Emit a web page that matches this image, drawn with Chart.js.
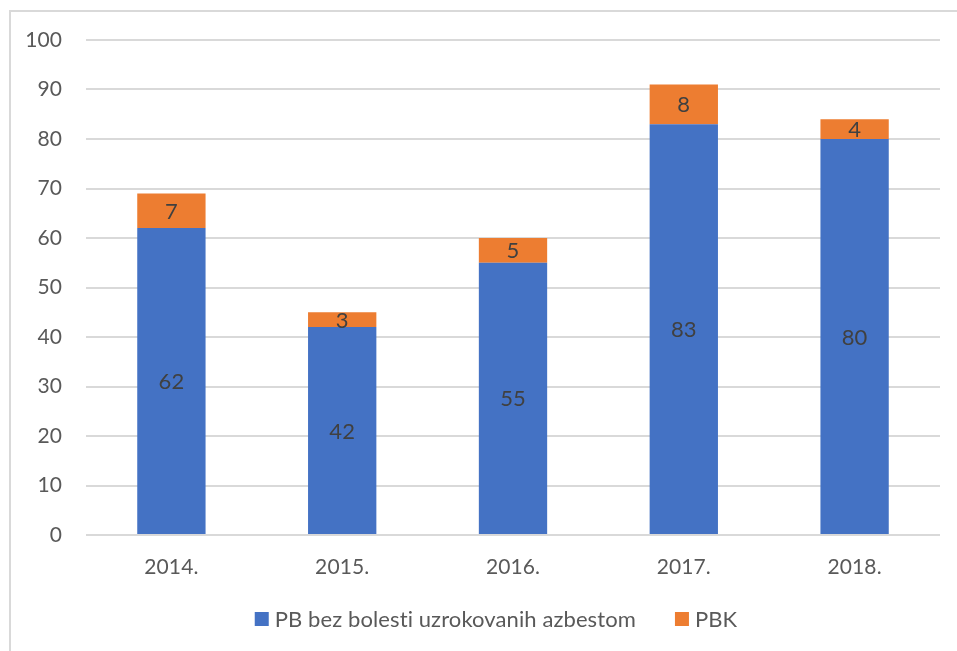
<!DOCTYPE html>
<html>
<head>
<meta charset="utf-8">
<script src="https://cdn.jsdelivr.net/npm/chart.js@4"></script>
<style>
  html, body { margin: 0; padding: 0; background: #fff; }
  #wrap { position: absolute; left: 0; top: 0; width: 957px; height: 651px; }
  #frame { position: absolute; left: 9px; top: 10px; width: 948px; height: 641px;
           border-top: 2px solid #d9d9d9; border-left: 2px solid #d9d9d9; box-sizing: border-box; }
  canvas { position: absolute; left: 0; top: 0; }
</style>
</head>
<body>
<div id="wrap">
  <div id="frame"></div>
  <canvas id="chart" width="957" height="651"></canvas>
</div>
<script>
  var years = ['2014.', '2015.', '2016.', '2017.', '2018.'];
  var pbValues = [62, 42, 55, 83, 80];
  var pbkValues = [7, 3, 5, 8, 4];
  var seriesNames = ['PB bez bolesti uzrokovanih azbestom', 'PBK'];
  var yTicks = [0, 10, 20, 30, 40, 50, 60, 70, 80, 90, 100];

  var fontFam = 'Lato, "Open Sans", sans-serif';

  // tiny letter spacing so Lato doesn't use the "ti" ligature
  var noLigatures = {
    id: 'noLigatures',
    beforeDraw: function (chart) {
      chart.ctx.letterSpacing = '0.1px';
    }
  };

  // labels in the middle of each stacked segment
  var segmentLabels = {
    id: 'segmentLabels',
    afterDatasetsDraw: function (chart) {
      var ctx = chart.ctx;
      ctx.save();
      ctx.font = '22px ' + fontFam;
      ctx.fillStyle = '#404040';
      ctx.textAlign = 'center';
      ctx.textBaseline = 'middle';
      chart.data.datasets.forEach(function (ds, i) {
        var meta = chart.getDatasetMeta(i);
        meta.data.forEach(function (bar, j) {
          var mid = (bar.y + bar.base) / 2;
          ctx.fillText(ds.data[j], bar.x, mid + 1);
        });
      });
      ctx.restore();
    }
  };

  // legend below the axis, drawn by hand so spacing is like the original
  var bottomLegend = {
    id: 'bottomLegend',
    afterDraw: function (chart) {
      var ctx = chart.ctx;
      var box = 14, gap = 6, itemGap = 39;
      var cy = chart.chartArea.bottom + 84;
      ctx.save();
      ctx.font = '22px ' + fontFam;
      ctx.textBaseline = 'middle';
      var widths = chart.data.datasets.map(function (ds) { return ctx.measureText(ds.label).width; });
      var total = 0;
      widths.forEach(function (w, i) { total += box + gap + w + (i ? itemGap : 0); });
      var x = 496 - total / 2;
      chart.data.datasets.forEach(function (ds, i) {
        ctx.fillStyle = ds.backgroundColor;
        ctx.fillRect(x, cy - box / 2, box, box);
        ctx.fillStyle = '#595959';
        ctx.fillText(ds.label, x + box + gap, cy + 1);
        x += box + gap + widths[i] + itemGap;
      });
      ctx.restore();
    }
  };

  var ctx = document.getElementById('chart').getContext('2d');
  new Chart(ctx, {
    type: 'bar',
    data: {
      labels: years,
      datasets: [{
        label: seriesNames[0],
        data: pbValues,
        backgroundColor: '#4472C4',
        categoryPercentage: 0.4,
        barPercentage: 1.0
      }, {
        label: seriesNames[1],
        data: pbkValues,
        backgroundColor: '#ED7D31',
        categoryPercentage: 0.4,
        barPercentage: 1.0
      }]
    },
    options: {
      responsive: false,
      animation: false,
      layout: { padding: { left: 0, right: 17, top: 40, bottom: 56 } },
      scales: {
        x: {
          stacked: true,
          grid: { display: false, drawTicks: false },
          border: { display: false },
          ticks: { color: '#595959', font: { family: fontFam, size: 21 }, padding: 20 },
          afterFit: function (scale) { scale.height = 60; }
        },
        y: {
          stacked: true,
          min: 0,
          max: 100,
          afterBuildTicks: function (scale) {
            scale.ticks = yTicks.map(function (v) { return { value: v }; });
          },
          grid: { color: '#d9d9d9', lineWidth: 2, drawTicks: false },
          border: { display: false },
          ticks: { color: '#595959', font: { family: fontFam, size: 21 }, padding: 24 },
          afterFit: function (scale) { scale.width = 86; }
        }
      },
      plugins: {
        legend: { display: false },
        tooltip: { enabled: false }
      }
    },
    plugins: [noLigatures, segmentLabels, bottomLegend]
  });
</script>
</body>
</html>
